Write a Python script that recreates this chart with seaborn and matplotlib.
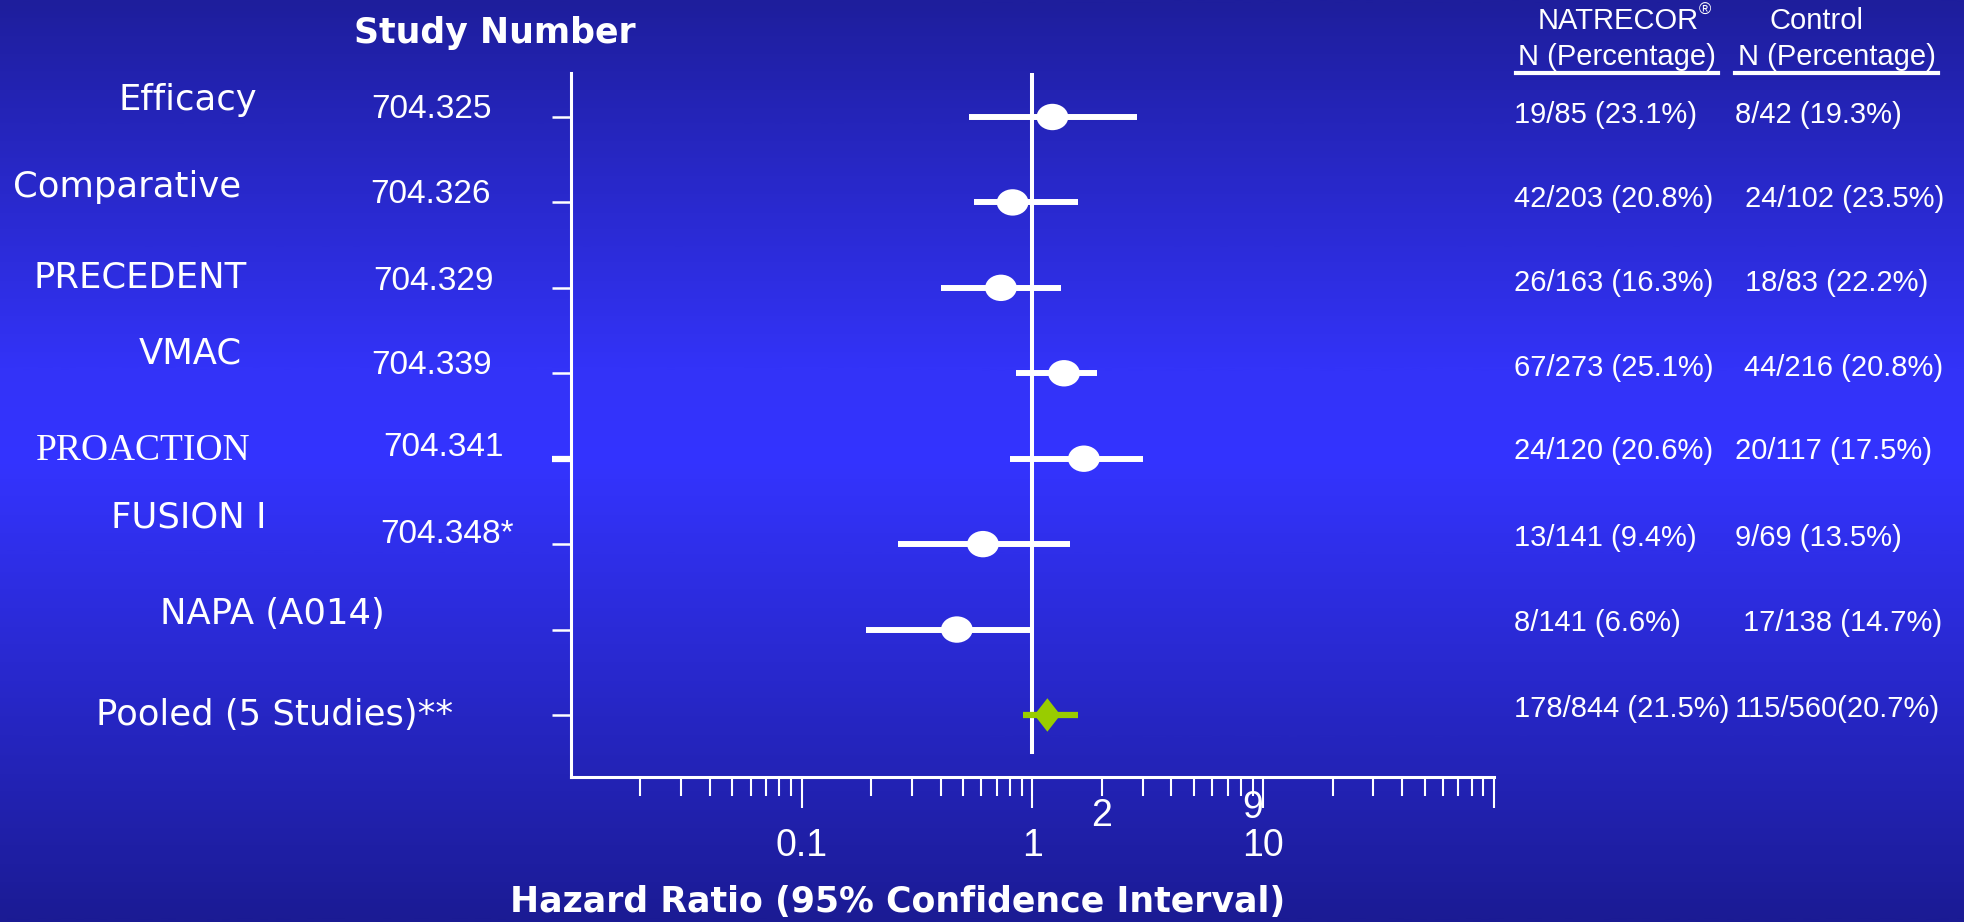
import numpy as np
import pandas as pd
import matplotlib
matplotlib.use("Agg")
import matplotlib.pyplot as plt
import matplotlib.transforms as mtransforms
from matplotlib.path import Path
from matplotlib.colors import LinearSegmentedColormap
from matplotlib.ticker import FixedLocator, LogLocator, NullFormatter, FixedFormatter
from matplotlib import font_manager as fm
import seaborn as sns

# ---------------- data ----------------
studies = ["Efficacy", "Comparative", "PRECEDENT", "VMAC", "PROACTION",
           "FUSION I", "NAPA (A014)", "Pooled (5 Studies)**"]
study_numbers = ["704.325", "704.326", "704.329", "704.339", "704.341",
                 "704.348*", "", ""]
hazard_ratio = [1.22, 0.82, 0.73, 1.37, 1.67, 0.61, 0.47, 1.16]
ci_low = [0.53, 0.56, 0.40, 0.85, 0.80, 0.26, 0.19, 0.91]
ci_high = [2.83, 1.57, 1.33, 1.90, 3.01, 1.46, 1.00, 1.58]
natrecor_n = ["19/85 (23.1%)", "42/203 (20.8%)", "26/163 (16.3%)",
              "67/273 (25.1%)", "24/120 (20.6%)", "13/141 (9.4%)",
              "8/141 (6.6%)", "178/844 (21.5%)"]
control_n = ["8/42 (19.3%)", "24/102 (23.5%)", "18/83 (22.2%)",
             "44/216 (20.8%)", "20/117 (17.5%)", "9/69 (13.5%)",
             "17/138 (14.7%)", "115/560(20.7%)"]
major_ticks = [0.1, 1, 10, 100]
major_labels = ["0.1", "1", "10", ""]
extra_ticks = [2, 9]
extra_labels = ["2", "9"]

# ---------------- layout (pixels of the 1965x922 canvas) ----------------
W, H = 1965, 922
def fx(px): return px / W
def fy(py): return 1 - py / H

name_pos = [(188, 100), (127, 187), (140, 278), (190, 353), (143, 451),
            (189, 517), (272, 614), (275, 715)]
num_pos = [(432, 109), (430, 194), (434, 281), (432, 365), (444, 447),
           (447, 534)]
right_y = [115, 199, 283, 368, 451, 538, 623, 709]
ctrl_x = [1735, 1745, 1745, 1744, 1735, 1735, 1743, 1735]

avail = {f.name for f in fm.fontManager.ttflist}
NARROW = "Liberation Sans Narrow" if "Liberation Sans Narrow" in avail else "Liberation Sans"

fig = plt.figure(figsize=(19.65, 9.22), dpi=100)

# background gradient
bg = fig.add_axes([0, 0, 1, 1], zorder=-10)
cmap = LinearSegmentedColormap.from_list(
    "bg", [(0.0, "#1e1e9c"), (0.40, "#3333f8"), (0.50, "#3434ff"), (1.0, "#1b1b94")])
grad = np.linspace(0, 1, 600).reshape(-1, 1)
bg.imshow(grad, aspect="auto", cmap=cmap, extent=[0, 1, 0, 1], origin="upper")
bg.set_xlim(0, 1); bg.set_ylim(0, 1)
bg.axis("off")

ax = fig.add_axes([fx(571), fy(777), fx(1494) - fx(571), (777 - 73) / H])
ax.set_facecolor("none")

n = len(studies)
df = pd.DataFrame({"study": studies, "hr": hazard_ratio, "lo": ci_low,
                   "hi": ci_high, "row": np.arange(n)})
indiv = df.iloc[:-1]
pooled = df.iloc[-1:]

ax.set_xscale("log")
ax.set_xlim(0.01, 100)
ax.set_ylim(n - 1 + 0.726, -0.515)

# reference line at HR = 1
ax.axvline(1, ymin=(777 - 752) / 704, ymax=1, color="white", lw=2.9, zorder=2)

# confidence intervals
ax.hlines(indiv["row"], indiv["lo"], indiv["hi"], color="white", lw=4.3, zorder=3)
ax.hlines(pooled["row"], pooled["lo"], pooled["hi"], color="#99cc00", lw=4.5, zorder=3)

ellipse = Path.unit_circle().transformed(mtransforms.Affine2D().scale(1.2, 1.0))
diamond = Path([(0, 1), (0.78, 0), (0, -1), (-0.78, 0), (0, 1)],
               [Path.MOVETO, Path.LINETO, Path.LINETO, Path.LINETO, Path.CLOSEPOLY])

sns.scatterplot(data=indiv, x="hr", y="row", marker=ellipse, s=520, color="white",
                edgecolor="none", linewidth=0, ax=ax, zorder=4, legend=False)
sns.scatterplot(data=pooled, x="hr", y="row", marker=diamond, s=580, color="#99cc00",
                edgecolor="none", linewidth=0, ax=ax, zorder=4, legend=False)

# spines
for s in ["top", "right"]:
    ax.spines[s].set_visible(False)
for s in ["left", "bottom"]:
    ax.spines[s].set_color("white")
    ax.spines[s].set_linewidth(2.2)

# y ticks (marks only)
ax.set_yticks(df["row"])
ax.set_yticklabels([])
ax.tick_params(axis="y", length=13.5, width=1.8, color="white", direction="out")
ax.yaxis.get_major_ticks()[4].tick1line.set_markeredgewidth(4.5)
ax.set_ylabel("")

# x ticks
ax.xaxis.set_major_locator(FixedLocator(major_ticks))
ax.xaxis.set_major_formatter(FixedFormatter(major_labels))
ax.xaxis.set_minor_locator(LogLocator(base=10, subs=np.arange(2, 10)))
ax.xaxis.set_minor_formatter(NullFormatter())
ax.tick_params(axis="x", which="major", length=22, width=1.5, color="white",
               labelcolor="white", labelsize=27, pad=15)
ax.tick_params(axis="x", which="minor", length=14, width=1.5, color="white")
for lab in ax.get_xticklabels():
    lab.set_fontfamily(NARROW)
ax.set_xlabel("")

blend = mtransforms.blended_transform_factory(ax.transData, ax.transAxes)
for v, t, yy in zip(extra_ticks, extra_labels, [816, 808]):
    ax.text(v, (777 - yy) / 704, t, transform=blend, ha="center", va="center",
            color="white", fontsize=27, family=NARROW)

# left labels
fig.text(fx(495), fy(33), "Study Number", ha="center", va="center", color="white",
         fontsize=25, fontweight="bold", family="DejaVu Sans")
for i, (name, (px, py)) in enumerate(zip(studies, name_pos)):
    if name == "PROACTION":
        fig.text(fx(px), fy(py), name, ha="center", va="center", color="white",
                 fontsize=27, family="Liberation Serif")
    else:
        fig.text(fx(px), fy(py), name, ha="center", va="center", color="white",
                 fontsize=25.5, family="DejaVu Sans")
for num, (px, py) in zip(study_numbers, num_pos):
    fig.text(fx(px), fy(py), num, ha="center", va="center", color="white",
             fontsize=24, family="Liberation Sans")

# right columns
fig.text(fx(1618), fy(21), "NATRECOR", ha="center", va="center", color="white",
         fontsize=21, family="Liberation Sans")
fig.text(fx(1705), fy(10), "®", ha="center", va="center", color="white",
         fontsize=12, family="Liberation Sans")
fig.text(fx(1817), fy(21), "Control", ha="center", va="center", color="white",
         fontsize=21, family="Liberation Sans")
fig.text(fx(1617), fy(57), "N (Percentage)", ha="center", va="center", color="white",
         fontsize=21, family="Liberation Sans")
fig.text(fx(1837), fy(57), "N (Percentage)", ha="center", va="center", color="white",
         fontsize=21, family="Liberation Sans")
for x0, x1 in [(1516, 1718), (1735, 1938)]:
    fig.add_artist(plt.Line2D([fx(x0), fx(x1)], [fy(73), fy(73)], color="white",
                              lw=3, transform=fig.transFigure))
for a, b, py, cx in zip(natrecor_n, control_n, right_y, ctrl_x):
    fig.text(fx(1514), fy(py), a, ha="left", va="center", color="white",
             fontsize=21, family="Liberation Sans")
    fig.text(fx(cx), fy(py), b, ha="left", va="center", color="white",
             fontsize=21, family="Liberation Sans")

fig.text(fx(898), fy(902), "Hazard Ratio (95% Confidence Interval)", ha="center",
         va="center", color="white", fontsize=25, fontweight="bold", family="DejaVu Sans")

fig.savefig("out.png", dpi=100)
